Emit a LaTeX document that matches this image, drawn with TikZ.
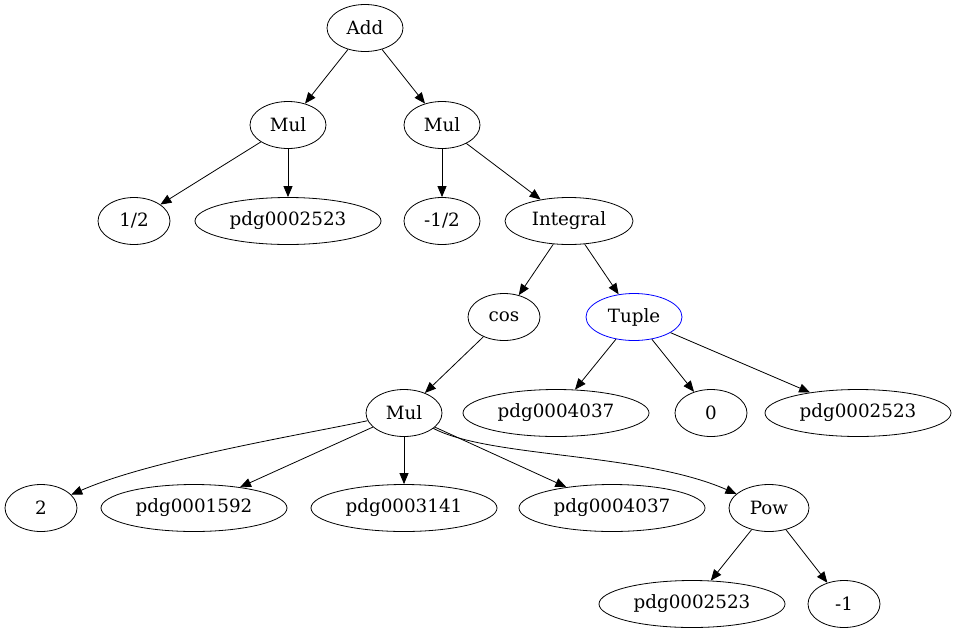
\documentclass[tikz,border=0pt]{standalone}
\usepackage{fontspec}
\setmainfont{DejaVu Serif}
\usetikzlibrary{shapes.geometric,arrows.meta}
\begin{document}
\begin{tikzpicture}[x=1pt,y=-1pt,
  nd/.style={draw,ellipse,line width=0.8pt,inner sep=0pt,minimum height=47pt,font=\fontsize{18.3}{22}\selectfont},
  w72/.style={nd,minimum width=72pt},
  w76/.style={nd,minimum width=76pt},
  w80/.style={nd,minimum width=80pt},
  w96/.style={nd,minimum width=96pt},
  w128/.style={nd,minimum width=128pt},
  wp/.style={nd,minimum width=186pt},
  edge/.style={-{Triangle[length=11pt,width=9pt]},line width=0.8pt}]
\useasboundingbox (0,0) rectangle (963,635);
\node[w76] (add) at (365,28) {Add};
\node[w76] (mul1) at (288,125) {Mul};
\node[w76] (mul2) at (442,125) {Mul};
\node[w72] (half) at (134,221) {1/2};
\node[wp] (pa) at (288,221) {pdg0002523};
\node[w76] (mhalf) at (442,221) {-1/2};
\node[w128] (int) at (569,221) {Integral};
\node[w72] (cos) at (504,317) {cos};
\node[w96,draw=blue] (tup) at (634,317) {Tuple};
\node[w76] (mul3) at (404,413) {Mul};
\node[wp] (pb) at (556,413) {pdg0004037};
\node[w72] (zero) at (711,413) {0};
\node[wp] (pc) at (858,413) {pdg0002523};
\node[w72] (two) at (41,508) {2};
\node[wp] (pd) at (194,508) {pdg0001592};
\node[wp] (pe) at (404,508) {pdg0003141};
\node[wp] (pf) at (612,508) {pdg0004037};
\node[w80] (pow) at (769,508) {Pow};
\node[wp] (pg) at (692,604) {pdg0002523};
\node[w72] (mone) at (844,604) {-1};
\draw[edge] (add) -- (mul1);
\draw[edge] (add) -- (mul2);
\draw[edge] (mul1) -- (half);
\draw[edge] (mul1) -- (pa);
\draw[edge] (mul2) -- (mhalf);
\draw[edge] (mul2) -- (int);
\draw[edge] (int) -- (cos);
\draw[edge] (int) -- (tup);
\draw[edge] (cos) -- (mul3);
\draw[edge] (tup) -- (pb);
\draw[edge] (tup) -- (zero);
\draw[edge] (tup) -- (pc);
\draw[edge] (mul3) .. controls (300,435) and (150,460) .. (two);
\draw[edge] (mul3) -- (pd);
\draw[edge] (mul3) -- (pe);
\draw[edge] (mul3) -- (pf);
\draw[edge] (mul3) .. controls (490,458) and (640,452) .. (pow);
\draw[edge] (pow) -- (pg);
\draw[edge] (pow) -- (mone);
\end{tikzpicture}
\end{document}
